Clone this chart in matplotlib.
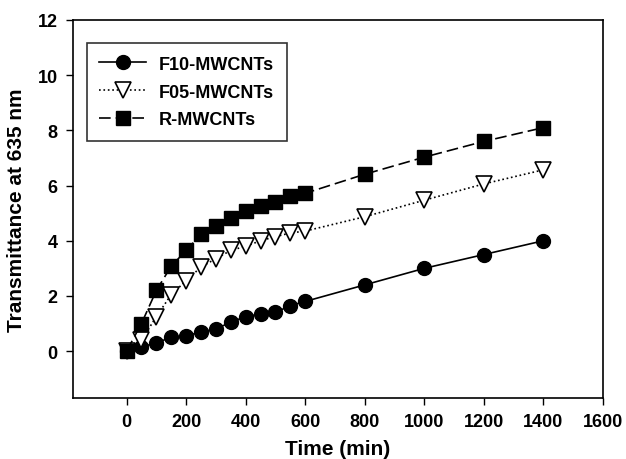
import matplotlib
matplotlib.use("Agg")
import matplotlib.pyplot as plt

plt.rcParams['font.family'] = ['Liberation Sans', 'DejaVu Sans']

time = [0, 50, 100, 150, 200, 250, 300, 350, 400, 450, 500, 550, 600, 800, 1000, 1200, 1400]
f10 = [0, 0.15, 0.3, 0.5, 0.55, 0.7, 0.8, 1.05, 1.25, 1.35, 1.4, 1.65, 1.8, 2.4, 3.0, 3.5, 4.0]
f05 = [0, 0.4, 1.25, 2.05, 2.55, 3.05, 3.35, 3.65, 3.8, 4.0, 4.15, 4.28, 4.35, 4.87, 5.47, 6.06, 6.57]
r = [0, 1.0, 2.2, 3.08, 3.65, 4.23, 4.53, 4.83, 5.07, 5.27, 5.42, 5.62, 5.72, 6.41, 7.03, 7.6, 8.1]

xticks = [0, 200, 400, 600, 800, 1000, 1200, 1400, 1600]
yticks = [0, 2, 4, 6, 8, 10, 12]

fig = plt.figure(figsize=(6.26, 4.6), dpi=100)
ax = fig.add_axes([73/626, 1 - 399/460, 530/626, 378/460])

ax.plot(time, f10, '-', color='black', lw=1.2, marker='o', ms=10,
        mfc='black', mec='black', label='F10-MWCNTs')
ax.plot(time, f05, ':', color='black', lw=1.2, marker='v', ms=11,
        mfc='white', mec='black', mew=1.2, label='F05-MWCNTs')
ax.plot(time, r, color='black', lw=1.2, dashes=(7, 3), marker='s', ms=9.5,
        mfc='black', mec='black', label='R-MWCNTs')

ax.set_xlim(-180, 1600)
ax.set_ylim(-1.7, 12)
ax.set_xticks(xticks)
ax.set_yticks(yticks)
ax.tick_params(direction='out', length=5, width=1, labelsize=13, top=False, right=False, pad=6)
for lbl in ax.get_xticklabels() + ax.get_yticklabels():
    lbl.set_fontweight('bold')
for s in ax.spines.values():
    s.set_linewidth(1.2)

ax.set_xlabel('Time (min)', fontsize=15, fontweight='bold', labelpad=6)
ax.set_ylabel('Transmittance at 635 nm', fontsize=15, fontweight='bold', labelpad=8)

leg = ax.legend(loc='upper left', bbox_to_anchor=(0.026, 0.939), frameon=True, fancybox=False,
                edgecolor='black', prop={'size': 13, 'weight': 'bold'}, handlelength=2.6,
                borderpad=0.7, labelspacing=0.6, handletextpad=0.7, borderaxespad=0)
leg.get_frame().set_linewidth(1.2)

fig.savefig('out.png', dpi=100)
